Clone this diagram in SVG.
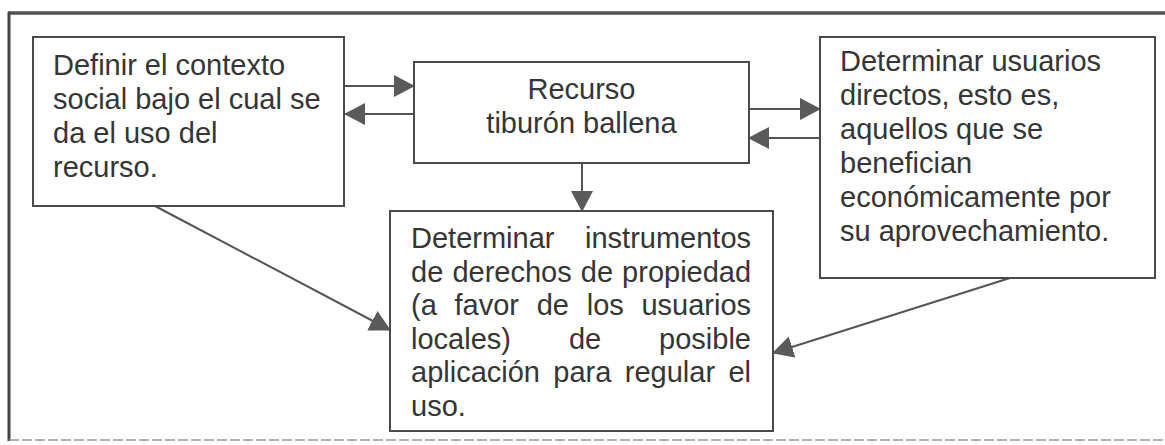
<svg xmlns="http://www.w3.org/2000/svg" width="1165" height="445" viewBox="0 0 1165 445">
<style>
.box{fill:#fff;stroke:#4a4a4a;stroke-width:2}
.t{font-family:"Liberation Sans",Arial,sans-serif;font-size:29px;fill:#353535}
.c{fill:none;stroke:#555;stroke-width:2;marker-end:url(#ah)}
</style>
<defs>
<marker id="ah" markerUnits="userSpaceOnUse" markerWidth="21" markerHeight="22" refX="20" refY="11" orient="auto">
<path d="M0,0 L21,11 L0,22 z" fill="#5a5a5a"/>
</marker>
</defs>
<rect width="1165" height="445" fill="#fff"/>
<g id="frame">
<line x1="8" y1="13" x2="1165" y2="13" stroke="#505050" stroke-width="3.5"/>
<line x1="9" y1="12" x2="9" y2="441" stroke="#444" stroke-width="3"/>
<line x1="9" y1="440" x2="1165" y2="440" stroke="#999" stroke-width="1.5" stroke-dasharray="10 3"/>
</g>
<g id="connectors">
<line class="c" x1="345" y1="86" x2="414" y2="86"/>
<line class="c" x1="414" y1="114" x2="345" y2="114"/>
<line class="c" x1="749" y1="109" x2="820" y2="109"/>
<line class="c" x1="820" y1="138" x2="749" y2="138"/>
<line class="c" x1="582" y1="163" x2="582" y2="211"/>
<line class="c" x1="155" y1="206" x2="390" y2="330"/>
<line class="c" x1="1010" y1="278" x2="773" y2="353"/>
</g>
<g id="node-contexto">
<rect class="box" x="33" y="37" width="311" height="169"/>
<text class="t" x="53" y="75">Definir el contexto</text>
<text class="t" x="53" y="109">social bajo el cual se</text>
<text class="t" x="53" y="143">da el uso del</text>
<text class="t" x="53" y="177">recurso.</text>
</g>
<g id="node-recurso">
<rect class="box" x="414" y="62" width="335" height="101"/>
<text class="t" x="581.5" y="99" text-anchor="middle">Recurso</text>
<text class="t" x="581.5" y="133" text-anchor="middle">tiburón ballena</text>
</g>
<g id="node-usuarios">
<rect class="box" x="820" y="37" width="335" height="241"/>
<text class="t" x="840" y="71">Determinar usuarios</text>
<text class="t" x="840" y="105">directos, esto es,</text>
<text class="t" x="840" y="139">aquellos que se</text>
<text class="t" x="840" y="173">benefician</text>
<text class="t" x="840" y="207">económicamente por</text>
<text class="t" x="840" y="241">su aprovechamiento.</text>
</g>
<g id="node-instrumentos">
<rect class="box" x="390" y="211" width="383" height="220"/>
<text class="t" y="248"><tspan x="411">Determinar</tspan><tspan x="585">instrumentos</tspan></text>
<text class="t" y="281.5"><tspan x="411">de</tspan><tspan x="452.4">derechos</tspan><tspan x="580.8">de</tspan><tspan x="622.1">propiedad</tspan></text>
<text class="t" y="315"><tspan x="411">(a</tspan><tspan x="454.5">favor</tspan><tspan x="536.7">de</tspan><tspan x="586.7">los</tspan><tspan x="641.4">usuarios</tspan></text>
<text class="t" y="348.5"><tspan x="411">locales)</tspan><tspan x="568.9">de</tspan><tspan x="659.1">posible</tspan></text>
<text class="t" y="382"><tspan x="411">aplicación</tspan><tspan x="553.3">para</tspan><tspan x="624.8">regular</tspan><tspan x="728.4">el</tspan></text>
<text class="t" x="411" y="415.5">uso.</text>
</g>
</svg>
